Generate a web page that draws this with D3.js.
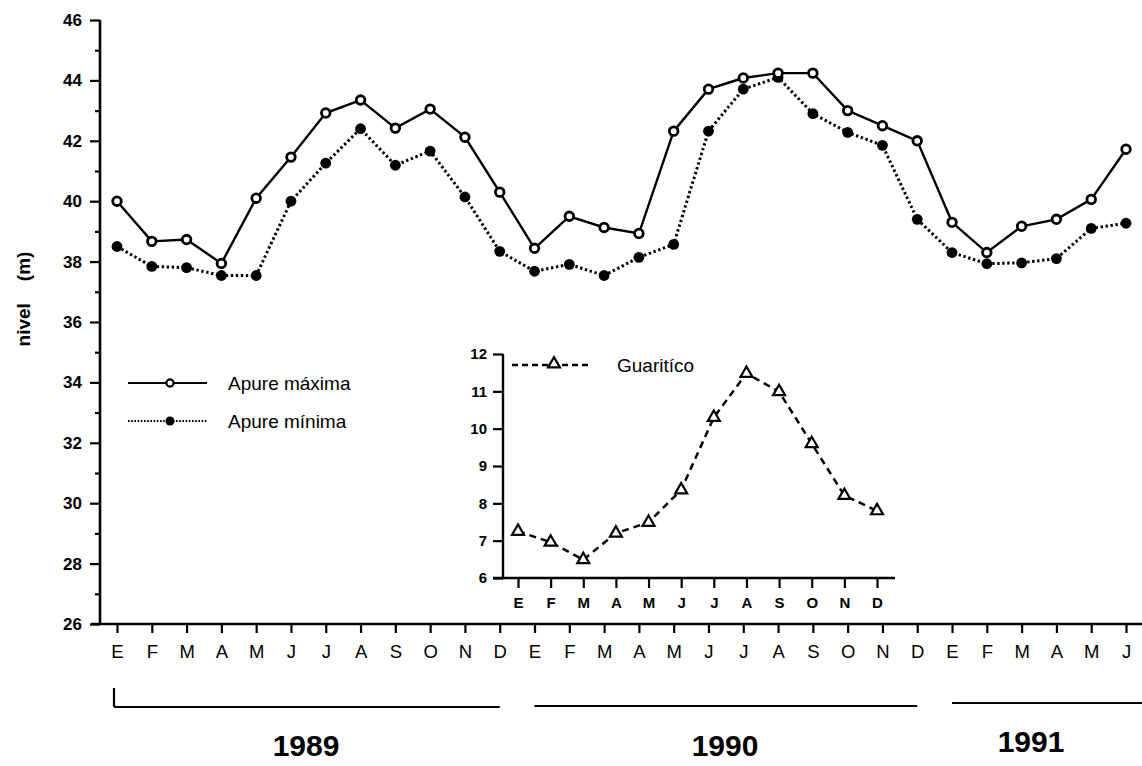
<!DOCTYPE html>
<html>
<head>
<meta charset="utf-8">
<script src="https://cdn.jsdelivr.net/npm/d3@7"></script>
<style>
  html, body { margin: 0; padding: 0; background: #fff; }
  svg { display: block; font-family: "Liberation Sans", Arial, Helvetica, sans-serif; }
</style>
</head>
<body>
<svg id="chart" width="1142" height="766"></svg>
<script>
// ---- data ----
const monthLabels = ["E","F","M","A","M","J","J","A","S","O","N","D",
                     "E","F","M","A","M","J","J","A","S","O","N","D",
                     "E","F","M","A","M","J"];
const apureMax = [40.0, 38.67, 38.73, 37.94, 40.1, 41.46, 42.92, 43.35, 42.42, 43.05, 42.12, 40.3,
                  38.44, 39.5, 39.13, 38.93, 42.32, 43.71, 44.08, 44.24, 44.24, 43.0, 42.5, 42.0,
                  39.3, 38.3, 39.17, 39.4, 40.06, 41.72];
const apureMin = [38.5, 37.84, 37.8, 37.54, 37.54, 40.0, 41.26, 42.4, 41.19, 41.66, 40.14, 38.34,
                  37.68, 37.91, 37.54, 38.14, 38.57, 42.32, 43.71, 44.1, 42.9, 42.28, 41.85, 39.4,
                  38.3, 37.93, 37.96, 38.1, 39.1, 39.27];
const insetMonths = ["E","F","M","A","M","J","J","A","S","O","N","D"];
const guaritico = [7.25, 6.96, 6.49, 7.2, 7.49, 8.36, 10.3, 11.48, 10.99, 9.6, 8.21, 7.8];
const years = ["1989", "1990", "1991"];
const yearSpans = [[0, 11], [12, 23], [24, 29]];
const mainYTicks = [26, 28, 30, 32, 34, 36, 38, 40, 42, 44, 46];
const mainYMinor = [27, 29, 31, 33, 35, 37, 39, 41, 43, 45];
const insetYTicks = [6, 7, 8, 9, 10, 11, 12];
const legendNames = ["Apure máxima", "Apure mínima"];
const insetLegendName = "Guaritíco";
const yTitleParts = ["nivel", "(m)"];

// ---- setup ----
const svg = d3.select("#chart");
const W = 1142;
const FONT = '"Liberation Sans", Arial, Helvetica, sans-serif';

const idx = d3.range(monthLabels.length);
const x = d3.scalePoint().domain(idx).range([117, 1126]);
const y = d3.scaleLinear().domain([26, 46]).range([624, 20]);

const ix = d3.scalePoint().domain(d3.range(insetMonths.length)).range([518, 877]);
const iy = d3.scaleLinear().domain([6, 12]).range([578, 354]);

function styleAxis(g, fs, fw) {
  g.selectAll("path.domain").remove();
  g.selectAll(".tick line").attr("stroke", "#000").attr("stroke-width", 2.2);
  g.selectAll(".tick text").attr("fill", "#000").style("font-family", FONT)
    .style("font-size", fs + "px").style("font-weight", fw);
}

// ---- main axes ----
const gy = svg.append("g").attr("transform", `translate(${x(0) - 17},0)`);
gy.call(d3.axisLeft(y).tickValues(mainYTicks).tickSize(10).tickPadding(8).tickFormat(d3.format("d")));
styleAxis(gy, 17, "bold");
const gy2 = svg.append("g").attr("transform", `translate(${x(0) - 17},0)`);
gy2.call(d3.axisLeft(y).tickValues(mainYMinor).tickSize(5).tickFormat(""));
styleAxis(gy2, 17, "bold");
svg.append("line")
  .attr("x1", x(0) - 17).attr("x2", x(0) - 17)
  .attr("y1", y(46)).attr("y2", y(26))
  .attr("stroke", "#000").attr("stroke-width", 2.6);

const gx = svg.append("g").attr("transform", `translate(0,${y(26)})`);
gx.call(d3.axisBottom(x).tickSize(9).tickPadding(12).tickFormat(i => monthLabels[i]));
styleAxis(gx, 18.5, "normal");
gx.selectAll(".tick text").attr("dy", "0.71em");
svg.append("line")
  .attr("x1", x(0) - 26).attr("x2", W)
  .attr("y1", y(26)).attr("y2", y(26))
  .attr("stroke", "#000").attr("stroke-width", 2.6);

// y title
const yt = svg.append("text")
  .attr("transform", `translate(30,299) rotate(-90)`)
  .attr("text-anchor", "middle")
  .style("font-family", FONT).style("font-size", "19px").style("font-weight", "bold");
yt.append("tspan").text(yTitleParts[0]);
yt.append("tspan").attr("dx", 22).text(yTitleParts[1]);

// ---- main series ----
const lineMax = d3.line().x((d, i) => x(i)).y(d => y(d));
svg.append("path").datum(apureMax)
  .attr("d", lineMax).attr("fill", "none").attr("stroke", "#000").attr("stroke-width", 2.4);
svg.append("path").datum(apureMin)
  .attr("d", lineMax).attr("fill", "none").attr("stroke", "#000").attr("stroke-width", 3)
  .attr("stroke-dasharray", "2.4,2.6");

svg.append("g").selectAll("circle").data(apureMin).join("circle")
  .attr("cx", (d, i) => x(i)).attr("cy", d => y(d)).attr("r", 5.4).attr("fill", "#000");
svg.append("g").selectAll("circle").data(apureMax).join("circle")
  .attr("cx", (d, i) => x(i)).attr("cy", d => y(d)).attr("r", 4.3)
  .attr("fill", "#fff").attr("stroke", "#000").attr("stroke-width", 2.8);

// ---- main legend ----
const lg = svg.append("g");
const legY = [383, 421];
lg.append("line").attr("x1", 128).attr("x2", 207).attr("y1", legY[0]).attr("y2", legY[0])
  .attr("stroke", "#000").attr("stroke-width", 2.2);
lg.append("circle").attr("cx", 170).attr("cy", legY[0]).attr("r", 3.6)
  .attr("fill", "#fff").attr("stroke", "#000").attr("stroke-width", 2.2);
lg.append("line").attr("x1", 128).attr("x2", 207).attr("y1", legY[1]).attr("y2", legY[1])
  .attr("stroke", "#000").attr("stroke-width", 2).attr("stroke-dasharray", "1.6,1.6");
lg.append("circle").attr("cx", 170).attr("cy", legY[1]).attr("r", 4.5).attr("fill", "#000");
legendNames.forEach((n, k) => {
  lg.append("text").attr("x", 228).attr("y", legY[k]).attr("dy", "0.36em")
    .style("font-family", FONT).style("font-size", "19px").text(n);
});

// ---- inset ----
const igy = svg.append("g").attr("transform", `translate(${ix(0) - 15},0)`);
igy.call(d3.axisLeft(iy).tickValues(insetYTicks).tickSize(10).tickPadding(6).tickFormat(d3.format("d")));
styleAxis(igy, 15, "bold");
svg.append("line")
  .attr("x1", ix(0) - 15).attr("x2", ix(0) - 15)
  .attr("y1", iy(12)).attr("y2", iy(6))
  .attr("stroke", "#000").attr("stroke-width", 2.4);

const igx = svg.append("g").attr("transform", `translate(0,${iy(6)})`);
igx.call(d3.axisBottom(ix).tickSize(10).tickPadding(9).tickFormat(i => insetMonths[i]));
styleAxis(igx, 15, "bold");
igx.selectAll(".tick text").attr("dy", "0.71em");
svg.append("line")
  .attr("x1", ix(0) - 25).attr("x2", ix(11) + 18)
  .attr("y1", iy(6)).attr("y2", iy(6))
  .attr("stroke", "#000").attr("stroke-width", 2.6);

const iline = d3.line().x((d, i) => ix(i)).y(d => iy(d));
svg.append("path").datum(guaritico)
  .attr("d", iline).attr("fill", "none").attr("stroke", "#000").attr("stroke-width", 2.5)
  .attr("stroke-dasharray", "7,5");
const tri = d3.symbol().type(d3.symbolTriangle).size(62);
svg.append("g").selectAll("path").data(guaritico).join("path")
  .attr("d", tri)
  .attr("transform", (d, i) => `translate(${ix(i)},${iy(d)})`)
  .attr("fill", "#fff").attr("stroke", "#000").attr("stroke-width", 2.2);

// inset legend
svg.append("line").attr("x1", 512).attr("x2", 590).attr("y1", 365).attr("y2", 365)
  .attr("stroke", "#000").attr("stroke-width", 2.4).attr("stroke-dasharray", "6,4");
svg.append("path").attr("d", tri).attr("transform", "translate(554,364)")
  .attr("fill", "#fff").attr("stroke", "#000").attr("stroke-width", 2.2);
svg.append("text").attr("x", 617).attr("y", 365).attr("dy", "0.36em")
  .style("font-family", FONT).style("font-size", "19px").text(insetLegendName);

// ---- year brackets ----
const bracketY = [707, 706, 703];
const bracketEnds = [[x(0) - 3, x(11)], [x(12), x(23)], [x(24), W]];
yearSpans.forEach((s, k) => {
  const [a, b] = bracketEnds[k];
  svg.append("line").attr("x1", a).attr("x2", b).attr("y1", bracketY[k]).attr("y2", bracketY[k])
    .attr("stroke", "#000").attr("stroke-width", 2.2);
});
svg.append("line").attr("x1", x(0) - 3).attr("x2", x(0) - 3)
  .attr("y1", 688).attr("y2", bracketY[0])
  .attr("stroke", "#000").attr("stroke-width", 2.2);
const yearCx = [306, 725, 1031];
const yearCy = [745, 745, 741];
years.forEach((t, k) => {
  svg.append("text").attr("x", yearCx[k]).attr("y", yearCy[k]).attr("dy", "0.36em")
    .attr("text-anchor", "middle")
    .style("font-family", FONT).style("font-size", "30px").style("font-weight", "bold")
    .text(t);
});
</script>
</body>
</html>
